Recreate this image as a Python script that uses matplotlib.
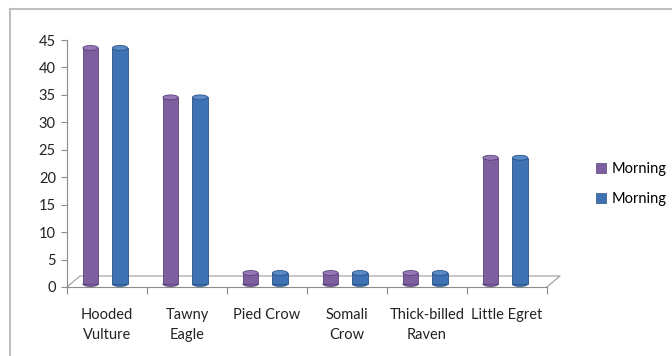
import matplotlib
matplotlib.use("Agg")
import matplotlib.pyplot as plt
import matplotlib.transforms as mtransforms
from matplotlib.patches import Ellipse, Patch
from matplotlib.lines import Line2D

categories = ["Hooded\nVulture", "Tawny\nEagle", "Pied Crow", "Somali\nCrow",
              "Thick-billed\nRaven", "Little Egret"]
series_names = ["Morning", "Morning"]
morning_a = [43, 34, 2, 2, 2, 23]
morning_b = [43, 34, 2, 2, 2, 23]
colors = ["#7D5FA0", "#3E72B2"]
tops = ["#9579B6", "#5A8BC8"]
edges = ["#5A4278", "#2A5288"]

plt.rcParams['font.family'] = ['Lato', 'DejaVu Sans']

fig = plt.figure(figsize=(6.72, 3.56), dpi=100)
ax = fig.add_axes([67 / 672, 69 / 356, 480 / 672, 247 / 356])

ax.set_xlim(0, len(categories))
ax.set_ylim(0, 45)

# 3D-ish offset: bars sit a bit behind the front edge of the floor
shift = mtransforms.ScaledTranslation(0, 0.03, fig.dpi_scale_trans)
trans = ax.transData + shift

width = 0.19
offsets = [-0.206, 0.163]
cap_h = 0.9
for s, vals in enumerate([morning_a, morning_b]):
    xs = [i + 0.5 + offsets[s] for i in range(len(vals))]
    ax.bar(xs, vals, width=width, color=colors[s], edgecolor=edges[s],
           linewidth=0.6, transform=trans, zorder=3)
    for x, v in zip(xs, vals):
        ax.add_patch(Ellipse((x, 0), width, cap_h, facecolor=colors[s],
                             edgecolor=edges[s], linewidth=0.6,
                             transform=trans, zorder=2))
        ax.add_patch(Ellipse((x, v), width, cap_h, facecolor=tops[s],
                             edgecolor=edges[s], linewidth=0.6,
                             transform=trans, zorder=4))

# floor outline
gray = "#8C8C8C"
dx, dy = 13 / 480, 11 / 247
ax.add_line(Line2D([0, dx, 1 + dx, 1], [0, dy, dy, 0], color="#A6A6A6",
                   lw=0.9, transform=ax.transAxes, clip_on=False, zorder=1))

for side in ["top", "right"]:
    ax.spines[side].set_visible(False)
ax.spines["left"].set_color(gray)
ax.spines["bottom"].set_color(gray)

ax.set_yticks(range(0, 46, 5))
ax.tick_params(axis="y", colors=gray, labelcolor="#222222", labelsize=10.5,
               length=4, pad=4)
ax.set_xticks(range(len(categories) + 1))
ax.set_xticklabels([])
ax.set_xticks([i + 0.5 for i in range(len(categories))], minor=True)
ax.set_xticklabels(categories, minor=True, fontsize=10.5, color="#222222",
                   linespacing=1.55)
ax.tick_params(axis="x", which="major", colors=gray, length=5)
ax.tick_params(axis="x", which="minor", length=0, pad=15)

handles = [Patch(facecolor=c, edgecolor=e, linewidth=0.5)
           for c, e in zip(colors, edges)]
fig.legend(handles, series_names, loc="center left",
           bbox_to_anchor=(583 / 672, 1 - 184 / 356), frameon=False,
           fontsize=10.5, handlelength=0.65, handleheight=0.65,
           handletextpad=0.4, labelspacing=1.1)

# chart area border (top and left visible)
fig.add_artist(Line2D([10 / 672, 10 / 672], [0, 1 - 9 / 356], color="#BFBFBF",
                      lw=1.5, transform=fig.transFigure))
fig.add_artist(Line2D([10 / 672, 1], [1 - 9 / 356, 1 - 9 / 356],
                      color="#BFBFBF", lw=1.5, transform=fig.transFigure))

fig.savefig("out.png", dpi=100)
